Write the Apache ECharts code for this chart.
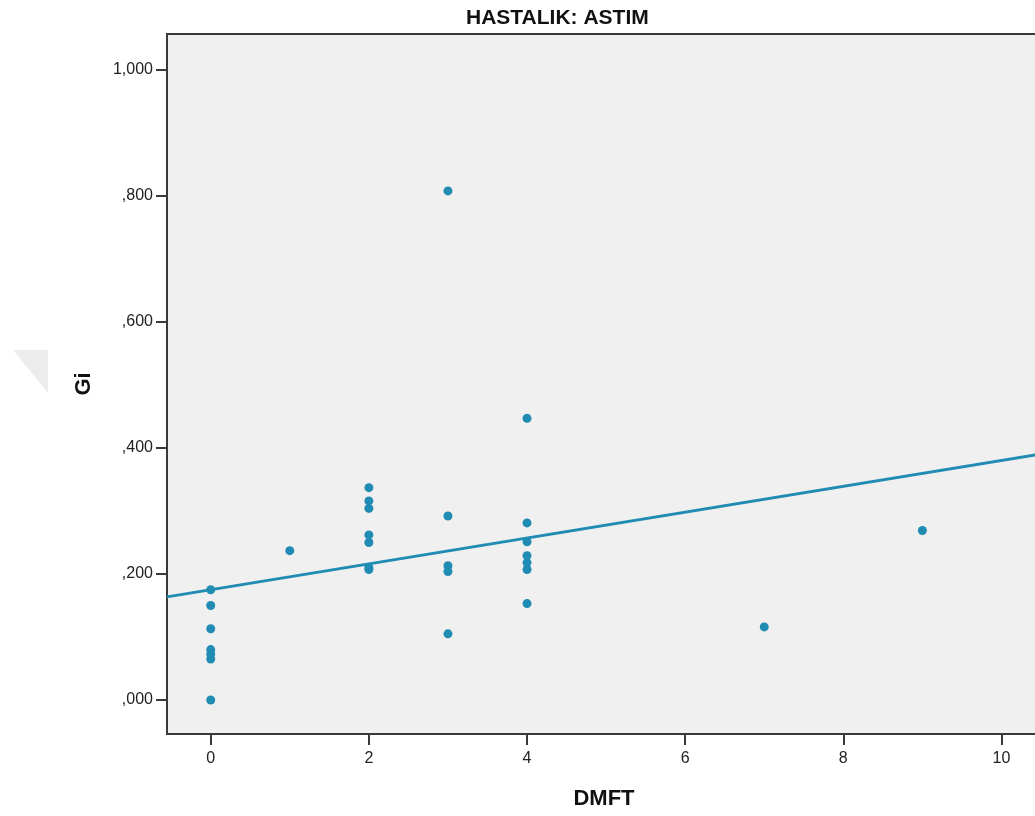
<!DOCTYPE html>
<html>
<head>
<meta charset="utf-8">
<script src="https://cdn.jsdelivr.net/npm/echarts@6/dist/echarts.min.js"></script>
</head>
<body style="margin:0;background:#fff;">
	<div id="main" style="width: 1035px; height: 816px;"></div>
	<script type="text/javascript">
		// data (DMFT -> Gi)
		var dmft = [0, 0, 0, 0, 0, 0, 0, 1, 2, 2, 2, 2, 2, 2, 2, 3, 3, 3, 3, 3, 4, 4, 4, 4, 4, 4, 4, 7, 9];
		var gi = [0.175, 0.150, 0.113, 0.080, 0.073, 0.065, 0.000, 0.237,
			0.337, 0.316, 0.304, 0.262, 0.250, 0.210, 0.207,
			0.808, 0.292, 0.213, 0.204, 0.105,
			0.447, 0.281, 0.251, 0.229, 0.218, 0.207, 0.153,
			0.116, 0.269];
		// fit line (linear)
		var fitIntercept = 0.175;
		var fitSlope = 0.0205;

		var xTicks = [0, 2, 4, 6, 8, 10];
		var yTicks = [0, 0.2, 0.4, 0.6, 0.8, 1.0];
		var xMin = -0.553, xMax = 10.5;
		var yMin = -0.054, yMax = 1.057;

		var points = [];
		for (var i = 0; i < dmft.length; i++) {
			points.push([dmft[i], gi[i]]);
		}
		var fitLine = [
			[xMin, fitIntercept + fitSlope * xMin],
			[xMax, fitIntercept + fitSlope * xMax]
		];

		var font = 'Arial, "Liberation Sans", sans-serif';
		var blue = '#218cb3';

		var myChart = echarts.init(document.getElementById('main'));
		var option = {
			animation : false,
			title : {
				text : 'HASTALIK: ASTIM',
				left : 461,
				top : 3,
				textStyle : { fontFamily : font, fontSize : 21, fontWeight : 'bold', color : '#111' }
			},
			grid : {
				left : 167,
				top : 34,
				width : 874,
				height : 700,
				outerBoundsMode : 'none',
				containLabel : false,
				show : true,
				backgroundColor : '#f0f0f0',
				borderColor : '#3a3a3a',
				borderWidth : 2
			},
			graphic : [ {
				type : 'polygon',
				shape : { points : [ [ 13, 350 ], [ 48, 350 ], [ 48, 393 ] ] },
				style : { fill : '#ececec' },
				silent : true
			} ],
			xAxis : {
				type : 'value',
				min : xMin,
				max : xMax,
				name : 'DMFT',
				nameLocation : 'middle',
				nameGap : 54,
				nameTextStyle : { fontFamily : font, fontSize : 22, fontWeight : 'bold', color : '#111' },
				axisLine : { show : false, onZero : false },
				splitLine : { show : false },
				axisTick : {
					show : true,
					customValues : xTicks,
					length : 11,
					lineStyle : { color : '#3a3a3a', width : 2 }
				},
				axisLabel : {
					customValues : xTicks,
					margin : 17,
					fontFamily : font,
					fontSize : 16,
					color : '#222'
				}
			},
			yAxis : {
				type : 'value',
				min : yMin,
				max : yMax,
				name : 'Gi',
				nameLocation : 'middle',
				nameGap : 72,
				nameRotate : 90,
				nameTextStyle : { fontFamily : font, fontSize : 22, fontWeight : 'bold', color : '#111' },
				axisLine : { show : false, onZero : false },
				splitLine : { show : false },
				axisTick : {
					show : true,
					customValues : yTicks,
					length : 11,
					lineStyle : { color : '#3a3a3a', width : 2 }
				},
				axisLabel : {
					customValues : yTicks,
					margin : 14,
					fontFamily : font,
					fontSize : 16,
					color : '#222',
					formatter : function (v) {
						return v.toFixed(3).replace('.', ',').replace(/^0/, '');
					}
				}
			},
			series : [ {
				type : 'line',
				data : fitLine,
				symbol : 'none',
				lineStyle : { color : blue, width : 3 },
				z : 2
			}, {
				type : 'scatter',
				data : points,
				symbolSize : 9,
				itemStyle : { color : blue, opacity : 1 },
				z : 3
			} ]
		};
		myChart.setOption(option);
	</script>
</body>
</html>
